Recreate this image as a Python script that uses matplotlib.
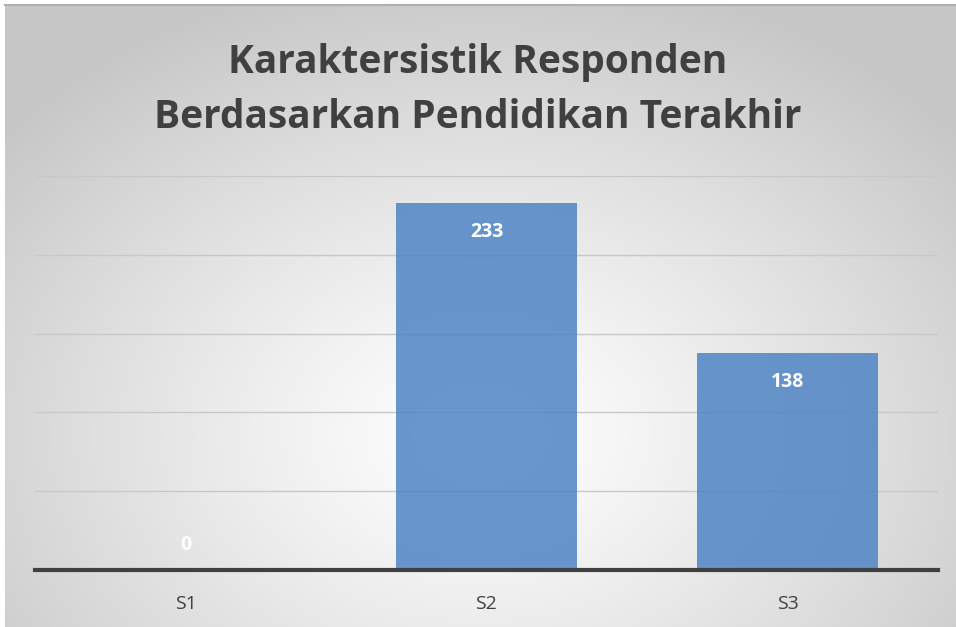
import numpy as np
import matplotlib.pyplot as plt

# Data
categories = ['S1', 'S2', 'S3']
values = [0, 233, 138]
title = 'Karaktersistik Responden\nBerdasarkan Pendidikan Terakhir'

plt.rcParams['font.family'] = ['Open Sans', 'DejaVu Sans']

W, H = 956, 627
fig = plt.figure(figsize=(W / 100, H / 100), dpi=100)

# Radial gradient background of the chart box
bg = fig.add_axes([5 / W, 0, 951 / W, 622 / H])
bg.set_axis_off()
yy, xx = np.mgrid[0:622, 0:951]
cx, cy = 475, 430
d = np.sqrt(((xx - cx) / 620) ** 2 + ((yy - cy) / 470) ** 2)
shade = 1.0 - 0.22 * np.clip(d, 0, 1) ** 1.2
img = np.dstack([shade, shade, shade])
bg.imshow(img, aspect='auto', extent=[0, 1, 0, 1], origin='upper')
bg.set_xlim(0, 1)
bg.set_ylim(0, 1)
bg.plot([0, 1], [1, 1], color='#b0b0b0', lw=1.5, transform=bg.transAxes, clip_on=False)

# Main plot
ax = fig.add_axes([35 / W, 57 / H, 903 / W, 394 / H])
ax.patch.set_alpha(0)
x = np.arange(len(categories))
ax.bar(x, values, width=0.6, color='#4f84c4', alpha=0.85, zorder=3)
ax.set_xlim(-0.5, len(categories) - 0.5)
ax.set_ylim(0, 250)
ax.set_yticks([0, 50, 100, 150, 200, 250])
ax.grid(axis='y', color='#c8c8c8', lw=1, zorder=0)
ax.set_xticks(x)
ax.set_xticklabels(categories, fontsize=14, color='#404040')
ax.tick_params(axis='x', length=0, pad=18)
ax.tick_params(axis='y', length=0, labelleft=False)
for s in ['top', 'right', 'left']:
    ax.spines[s].set_visible(False)
ax.spines['bottom'].set_color('#404040')
ax.spines['bottom'].set_linewidth(3)
ax.spines['bottom'].set_zorder(4)

for xi, v in zip(x, values):
    off = -29 if v > 0 else 25
    ax.annotate(str(v), (xi, v), xytext=(0, off), textcoords='offset pixels',
                ha='center', va='center', color='white', fontsize=14,
                fontweight='bold', zorder=5)

fig.text(0.5, 1 - 90 / H, title, ha='center', va='center', fontsize=28,
         fontweight='bold', color='#404040', linespacing=1.5)

fig.savefig('out.png', dpi=100)
